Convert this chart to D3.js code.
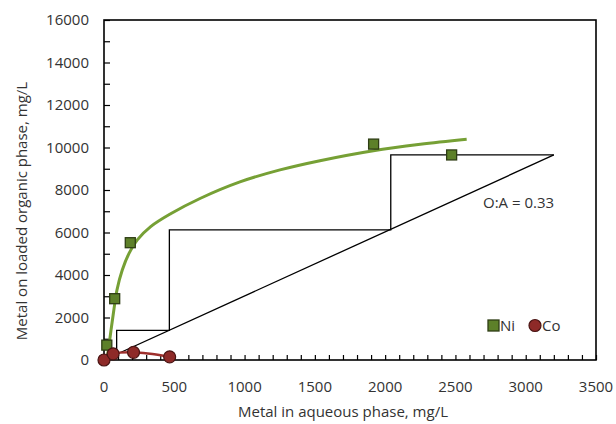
<!DOCTYPE html>
<html>
<head>
<meta charset="utf-8">
<script src="https://cdn.jsdelivr.net/npm/d3@7"></script>
<style>
  html, body { margin: 0; padding: 0; background: #fff; }
  svg { display: block; }
  text { font-family: "Open Sans", sans-serif; fill: #333; }
</style>
</head>
<body>
<svg id="chart" width="616" height="424"></svg>
<script>
// ---- data ----
const xTicks = [0, 500, 1000, 1500, 2000, 2500, 3000, 3500];
const yTicks = [0, 2000, 4000, 6000, 8000, 10000, 12000, 14000, 16000];

const niX = [20, 76, 187, 1918, 2473];
const niY = [700, 2885, 5520, 10160, 9650];

const coX = [0, 65, 210, 467];
const coY = [0, 290, 360, 150];

// fitted Ni isotherm
const fitX = [20, 31, 50, 70, 92, 130, 178, 237, 332, 474, 683, 967, 1252, 1536, 1916, 2250, 2580];
const fitY = [0, 470, 1410, 2350, 3290, 4235, 5020, 5650, 6275, 6880, 7600, 8380, 8946, 9380, 9850, 10150, 10384];

// operating line (O:A = 0.33)
const opX = [0, 3200];
const opY = [0, 9650];

// McCabe-Thiele staircase
const stepX = [3200, 2040, 2040, 465, 465, 90, 90];
const stepY = [9650, 9650, 6120, 6120, 1395, 1395, 270];

const legendLabels = ["Ni", "Co"];
const annotation = "O:A = 0.33";
const xTitle = "Metal in aqueous phase, mg/L";
const yTitle = "Metal on loaded organic phase, mg/L";

// ---- layout ----
const L = 104, R = 596, T = 20, B = 360;
const svg = d3.select("#chart");
const x = d3.scaleLinear().domain([0, 3500]).range([L, R]);
const y = d3.scaleLinear().domain([0, 16000]).range([B, T]);

const green = "#76a035", greenFill = "#5d8029", greenEdge = "#2e3d14";
const red = "#9e2f2c", redFill = "#8e2a28", redEdge = "#4a1413";

// minor ticks (inside)
const xAxis = d3.axisTop(x).tickValues(d3.range(0, 3501, 100)).tickSize(5).tickFormat("");
svg.append("g").attr("transform", `translate(0,${B})`).call(xAxis)
  .call(g => g.select(".domain").remove())
  .call(g => g.selectAll("line").attr("stroke", "#000").attr("stroke-width", 1.2));
const yAxis = d3.axisRight(y).tickValues(d3.range(0, 16001, 1000)).tickSize(6).tickFormat("");
svg.append("g").attr("transform", `translate(${L},0)`).call(yAxis)
  .call(g => g.select(".domain").remove())
  .call(g => g.selectAll("line").attr("stroke", "#000").attr("stroke-width", 1.2));

// tick labels
svg.append("g").selectAll("text").data(xTicks).join("text")
  .attr("x", d => x(d)).attr("y", 392)
  .attr("text-anchor", "middle").attr("font-size", 15).text(d => d);
svg.append("g").selectAll("text").data(yTicks).join("text")
  .attr("x", 89).attr("y", d => y(d) + 5)
  .attr("text-anchor", "end").attr("font-size", 15).text(d => d);

// frame
svg.append("rect").attr("x", L).attr("y", T).attr("width", R - L).attr("height", B - T)
  .attr("fill", "none").attr("stroke", "#000").attr("stroke-width", 1.6);

// operating line
const line = d3.line().x(d => x(d[0])).y(d => y(d[1]));
svg.append("path").datum(opX.map((v, i) => [v, opY[i]])).attr("d", line)
  .attr("fill", "none").attr("stroke", "#000").attr("stroke-width", 1.3);
// staircase
svg.append("path").datum(stepX.map((v, i) => [v, stepY[i]])).attr("d", line)
  .attr("fill", "none").attr("stroke", "#000").attr("stroke-width", 1.3);

// Ni fit curve
const curve = d3.line().x(d => x(d[0])).y(d => y(d[1])).curve(d3.curveCatmullRom.alpha(0.5));
svg.append("path").datum(fitX.map((v, i) => [v, fitY[i]])).attr("d", curve)
  .attr("fill", "none").attr("stroke", green).attr("stroke-width", 3);

// Co line
svg.append("path").datum(coX.map((v, i) => [v, coY[i]])).attr("d", curve)
  .attr("fill", "none").attr("stroke", red).attr("stroke-width", 2.5);

// Ni markers
const sq = 10;
svg.append("g").selectAll("rect").data(niX.map((v, i) => [v, niY[i]])).join("rect")
  .attr("x", d => x(d[0]) - sq / 2).attr("y", d => y(d[1]) - sq / 2)
  .attr("width", sq).attr("height", sq)
  .attr("fill", greenFill).attr("stroke", greenEdge).attr("stroke-width", 1.3);

// Co markers
svg.append("g").selectAll("circle").data(coX.map((v, i) => [v, coY[i]])).join("circle")
  .attr("cx", d => x(d[0])).attr("cy", d => y(d[1])).attr("r", 6)
  .attr("fill", redFill).attr("stroke", redEdge).attr("stroke-width", 1.2);

// annotation
svg.append("text").attr("x", 483).attr("y", 208).attr("font-size", 15).text(annotation);

// legend
const lg = svg.append("g");
lg.append("rect").attr("x", 488).attr("y", 320).attr("width", 11).attr("height", 11)
  .attr("fill", greenFill).attr("stroke", greenEdge).attr("stroke-width", 1.3);
lg.append("text").attr("x", 500).attr("y", 331).attr("font-size", 15).text(legendLabels[0]);
lg.append("circle").attr("cx", 535).attr("cy", 325.5).attr("r", 6)
  .attr("fill", redFill).attr("stroke", redEdge).attr("stroke-width", 1.2);
lg.append("text").attr("x", 542).attr("y", 331).attr("font-size", 15).text(legendLabels[1]);

// axis titles
svg.append("text").attr("x", 343).attr("y", 417).attr("text-anchor", "middle")
  .attr("font-size", 15).text(xTitle);
svg.append("text").attr("transform", `translate(27,211) rotate(-90)`)
  .attr("text-anchor", "middle").attr("font-size", 15).text(yTitle);
</script>
</body>
</html>
